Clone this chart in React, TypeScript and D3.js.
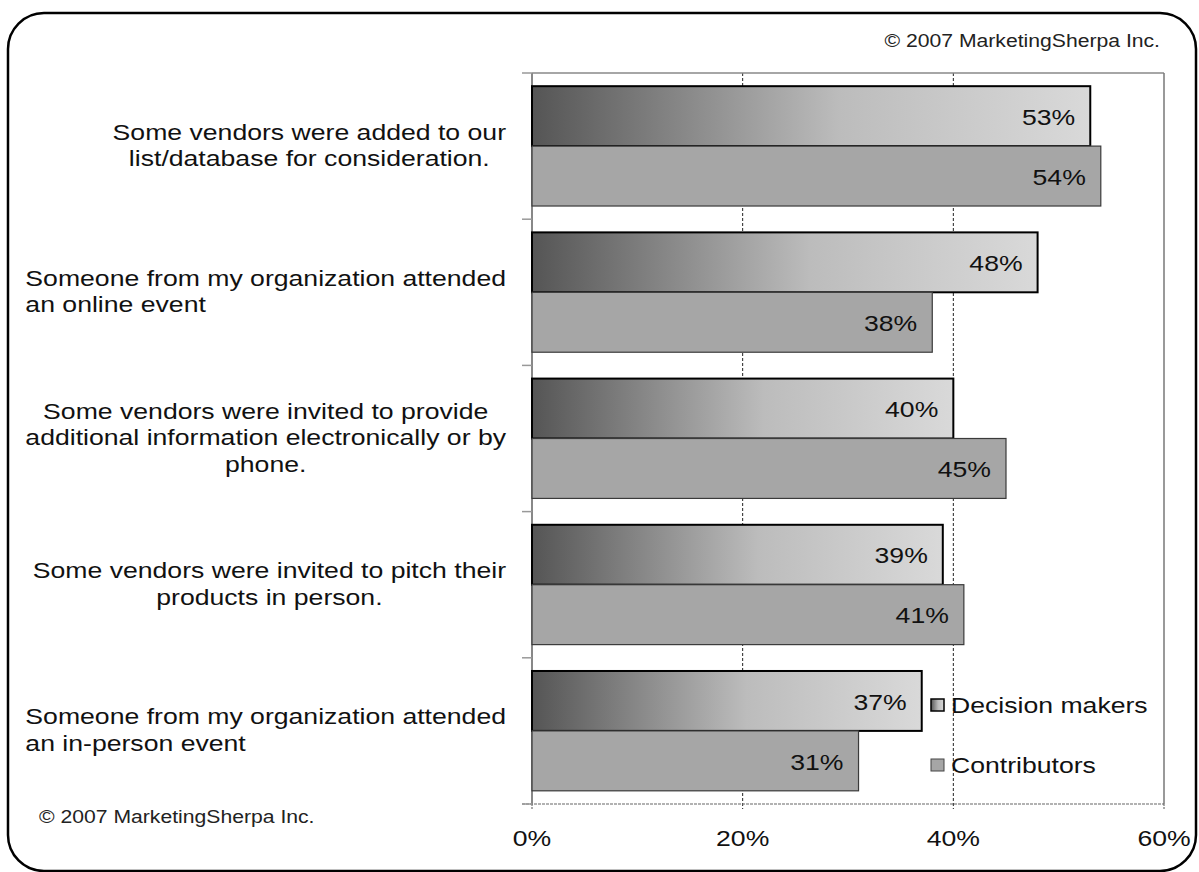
import React, { useEffect, useRef } from 'react';
import * as d3 from 'd3';

// category labels, one array of lines per category
const categories: string[][] = [
  ['Some vendors were added to our', 'list/database for consideration.'],
  ['Someone from my organization attended', 'an online event'],
  ['Some vendors were invited to provide', 'additional information electronically or by', 'phone.'],
  ['Some vendors were invited to pitch their', 'products in person.'],
  ['Someone from my organization attended', 'an in-person event'],
];
// the source chart left-aligns a few of the labels
const labelAlign: ('center' | 'left')[] = ['center', 'left', 'center', 'center', 'left'];

const seriesNames = ['Decision makers', 'Contributors'];
const decisionMakers = [53, 48, 40, 39, 37];
const contributors = [54, 38, 45, 41, 31];
const xTicks = [0, 20, 40, 60];
const copyright = '\u00A9 2007 MarketingSherpa Inc.';

const FONT = '"Liberation Sans", Arial, sans-serif';
const SX = 1.21; // the original text is stretched horizontally

export default function App() {
  const svgRef = useRef<SVGSVGElement>(null);

  useEffect(() => {
    if (!svgRef.current) return;
    const W = 1199;
    const H = 872;
    const plot = { left: 532, right: 1164, top: 73, bottom: 804 };

    const svg = d3.select(svgRef.current);
    svg.selectAll('*').remove();
    svg.attr('width', W).attr('height', H);

    const defs = svg.append('defs');
    const grad = defs.append('linearGradient')
      .attr('id', 'dm-grad')
      .attr('x1', '0%').attr('y1', '0%')
      .attr('x2', '100%').attr('y2', '0%');
    grad.append('stop').attr('offset', '0%').attr('stop-color', '#555555');
    grad.append('stop').attr('offset', '55%').attr('stop-color', '#bcbcbc');
    grad.append('stop').attr('offset', '100%').attr('stop-color', '#d9d9d9');

    // stretched text helper
    const addText = (
      g: d3.Selection<any, unknown, null, undefined>,
      x: number, y: number, txt: string, size: number,
      anchor: string, fill = '#111'
    ) => g.append('text')
      .attr('transform', `translate(${x},${y}) scale(${SX},1)`)
      .attr('text-anchor', anchor)
      .attr('dominant-baseline', 'central')
      .attr('font-family', FONT)
      .attr('font-size', size)
      .attr('fill', fill)
      .text(txt);

    // outer rounded frame
    svg.append('rect')
      .attr('x', 8).attr('y', 13)
      .attr('width', 1188).attr('height', 858)
      .attr('rx', 36).attr('ry', 36)
      .attr('fill', 'white')
      .attr('stroke', '#000').attr('stroke-width', 2.5);

    const x = d3.scaleLinear().domain([0, 60]).range([plot.left, plot.right]);
    const y = d3.scaleBand<number>()
      .domain(d3.range(categories.length))
      .range([plot.top, plot.bottom]);
    const ySub = d3.scaleBand<number>()
      .domain([0, 1])
      .range([0, y.bandwidth()])
      .paddingOuter(0.22);

    // grid lines
    const g = svg.append('g');
    xTicks.slice(1, -1).forEach(t => {
      g.append('line')
        .attr('x1', x(t)).attr('x2', x(t))
        .attr('y1', plot.top).attr('y2', plot.bottom + 5)
        .attr('stroke', '#222').attr('stroke-width', 1)
        .attr('stroke-dasharray', '3,2');
    });

    // plot frame
    g.append('line').attr('x1', plot.left).attr('x2', plot.right)
      .attr('y1', plot.top).attr('y2', plot.top)
      .attr('stroke', '#888').attr('stroke-width', 1.5);
    g.append('line').attr('x1', plot.right).attr('x2', plot.right)
      .attr('y1', plot.top).attr('y2', plot.bottom)
      .attr('stroke', '#777').attr('stroke-width', 1.5);
    g.append('line').attr('x1', plot.left - 10).attr('x2', plot.right)
      .attr('y1', plot.bottom).attr('y2', plot.bottom)
      .attr('stroke', '#666').attr('stroke-width', 1.2)
      .attr('stroke-dasharray', '3,1');
    [0, 60].forEach(t => {
      g.append('line')
        .attr('x1', x(t)).attr('x2', x(t))
        .attr('y1', plot.bottom).attr('y2', plot.bottom + 5)
        .attr('stroke', '#555').attr('stroke-dasharray', '2,1');
    });

    // left axis with category ticks
    g.append('line').attr('x1', plot.left).attr('x2', plot.left)
      .attr('y1', plot.top).attr('y2', plot.bottom)
      .attr('stroke', '#888').attr('stroke-width', 2);
    d3.range(categories.length + 1).forEach(i => {
      const ty = i < categories.length ? (y(i) as number) : plot.bottom;
      g.append('line')
        .attr('x1', plot.left - 10).attr('x2', plot.left)
        .attr('y1', ty).attr('y2', ty)
        .attr('stroke', '#999').attr('stroke-width', 1.5);
    });

    // bars
    const series = [decisionMakers, contributors];
    series.forEach((vals, si) => {
      vals.forEach((v, i) => {
        const by = (y(i) as number) + (ySub(si) as number);
        const bh = ySub.bandwidth();
        g.append('rect')
          .attr('x', x(0)).attr('y', by)
          .attr('width', x(v) - x(0)).attr('height', bh)
          .attr('fill', si === 0 ? 'url(#dm-grad)' : '#a6a6a6')
          .attr('stroke', si === 0 ? '#000' : '#3a3a3a')
          .attr('stroke-width', si === 0 ? 2 : 1.2);
        addText(g, x(v) - 15, by + bh / 2 + 1, `${v}%`, 22, 'end');
      });
    });

    // category labels
    const labelRight = 506;
    categories.forEach((lines, i) => {
      const cy = (y(i) as number) + y.bandwidth() / 2;
      const lh = 26.5;
      const y0 = cy - ((lines.length - 1) * lh) / 2 - 1;
      const nodes = lines.map((ln, li) => addText(g, 0, y0 + li * lh, ln, 22, 'start'));
      const widths = nodes.map(n => (n.node() as SVGTextElement).getComputedTextLength() * SX);
      const maxW = d3.max(widths) || 0;
      nodes.forEach((n, li) => {
        const ly = y0 + li * lh;
        if (labelAlign[i] === 'left') {
          n.attr('transform', `translate(${labelRight - maxW},${ly}) scale(${SX},1)`);
        } else {
          n.attr('text-anchor', 'middle')
            .attr('transform', `translate(${labelRight - maxW / 2},${ly}) scale(${SX},1)`);
        }
      });
    });

    // x tick labels
    xTicks.forEach(t => addText(g, x(t), 838, `${t}%`, 22, 'middle'));

    // legend
    const legendY = [705, 765];
    seriesNames.forEach((name, si) => {
      g.append('rect')
        .attr('x', 931).attr('y', legendY[si] - 6)
        .attr('width', 13).attr('height', 12)
        .attr('fill', si === 0 ? 'url(#dm-grad)' : '#a6a6a6')
        .attr('stroke', si === 0 ? '#000' : '#444')
        .attr('stroke-width', si === 0 ? 1.5 : 1);
      addText(g, 951, legendY[si], name, 22, 'start');
    });

    // copyright notes
    addText(g, 1160, 41, copyright, 17.5, 'end', '#222');
    addText(g, 39, 817, copyright, 17.5, 'start', '#222');
  }, []);

  return (
    <svg ref={svgRef} style={{ position: 'absolute', left: 0, top: 0, display: 'block' }} />
  );
}
